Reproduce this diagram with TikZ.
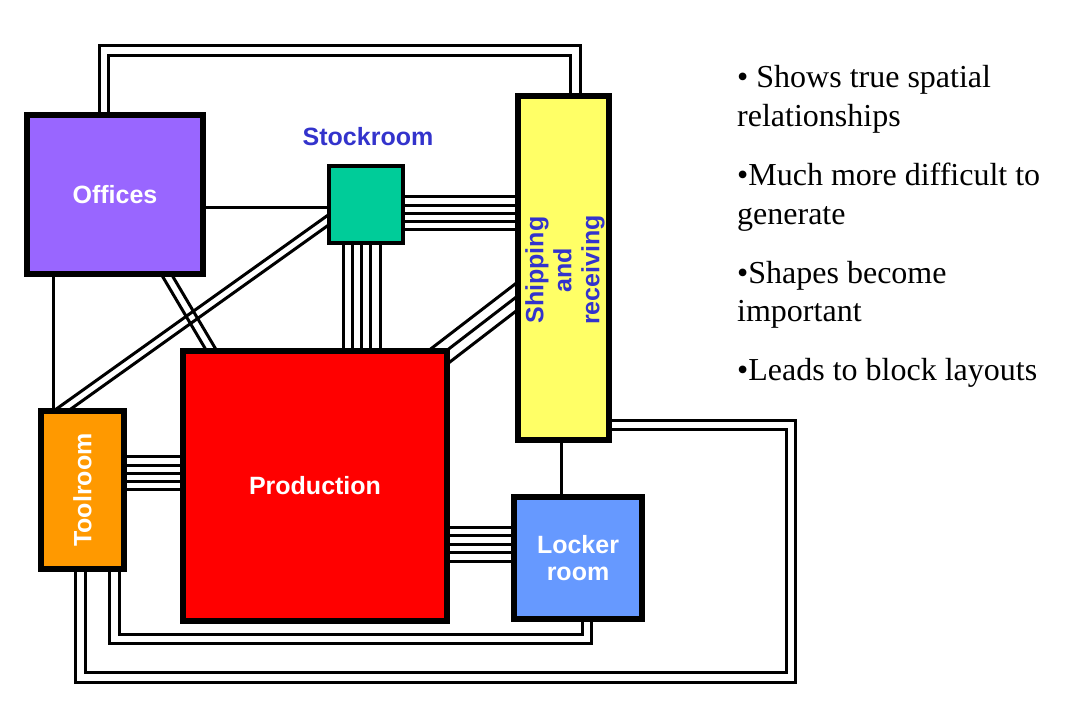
\documentclass[tikz,border=0pt]{standalone}
\usepackage{fontspec}
\setmainfont{Liberation Serif}
\newfontfamily\roomfont{Liberation Sans}
\usetikzlibrary{positioning,calc,backgrounds}
\definecolor{officeviolet}{HTML}{9966FF}
\definecolor{stockgreen}{HTML}{00CC99}
\definecolor{shipyellow}{HTML}{FFFF66}
\definecolor{toolorange}{HTML}{FF9900}
\definecolor{lockerblue}{HTML}{6699FF}
\definecolor{labelblue}{HTML}{3333CC}

\begin{document}
\begin{tikzpicture}[x=1pt,y=-1pt,
    room/.style={draw,line width=6pt,inner sep=0pt,text=white,align=center,
      font=\roomfont\bfseries\fontsize{25}{27}\selectfont},
    roomlabel/.style={inner sep=0pt,align=center,font=\roomfont\bfseries\fontsize{25}{28}\selectfont},
    lineone/.style={line width=3pt,shorten <=-3pt,shorten >=-3pt},
    linetwo/.style={line width=3pt,double=white,double distance=6.7pt},
    point/.style={anchor=base west,inner sep=0pt,align=left,font=\fontsize{32}{39}\selectfont}]
                \useasboundingbox (0,0) rectangle (1085,714);
                % rooms
                \node[room,fill=officeviolet,minimum width=176pt,minimum height=159pt] (offices) at (115,194.5) {Offices};
                \node[room,line width=4pt,fill=stockgreen,minimum width=74pt,minimum height=77pt] (stock) at (366,204.5) {};
                \node[roomlabel,text=labelblue] (stocklabel) at (368,137) {Stockroom};
                \node[room,fill=shipyellow,minimum width=91pt,minimum height=344pt] (ship) at (563.5,268) {};
                \node[roomlabel,text=labelblue,rotate=90] (shiplabel) at (565,270) {Shipping\\and\\receiving};
                \node[room,fill=red,minimum width=264pt,minimum height=270pt] (prod) at (315,486) {Production};
                \node[room,fill=toolorange,minimum width=83pt,minimum height=158pt] (tool) at (82.5,490) {};
                \node[roomlabel,text=white,rotate=90] (toollabel) at (tool) {Toolroom};
                \node[room,fill=lockerblue,minimum width=128pt,minimum height=122pt] (locker) at (578,558) {Locker\\room};
                % notes (base is the last line)
                \node[point] (pointone) at (737,127) {• Shows true spatial\\relationships};
                \node[point] (pointtwo) at (737,225) {•Much more difficult to\\generate};
                \node[point] (pointthree) at (737,322) {•Shapes become\\important};
                \node[point] (pointfour) at (737,380) {•Leads to block layouts};
                % links, under the rooms
                \begin{scope}[on background layer]
                \fill[white] (0,0) rectangle (1085,714);
                \coordinate (offfoot) at ([xshift=53pt]offices.south);
                \coordinate (prodhead) at ([xshift=-105pt]prod.north);
                \coordinate (stockside) at ([yshift=-16.5pt]stock.west);
                \coordinate (toolhead) at ([xshift=-17.5pt]tool.north);
                \coordinate (shipside) at ([yshift=-30pt]ship.west);
                \coordinate (farcorner) at (791,677.5);
                \draw[linetwo] ([xshift=-11pt]offices.north) -- ++(0,-61.5) -| ([xshift=12pt]ship.north);
                \draw[lineone] ([yshift=-13.5pt]offices.east) -- ++(121,0);
                \draw[lineone] ([xshift=-62pt]offices.south) -- ++(0,131);
                \foreach \s in {-4.4,4.4}
                    \draw[lineone,shorten <=-16pt,shorten >=-16pt] ($(offfoot)!\s pt!90:(prodhead)$) -- ($(prodhead)!\s pt!-90:(offfoot)$);
                \foreach \s in {-4.2,4.2}
                    \draw[lineone,shorten <=-16pt,shorten >=-16pt] ($(stockside)!\s pt!90:(toolhead)$) -- ($(toolhead)!\s pt!-90:(stockside)$);
                \foreach \s in {-11,0,11}
                    \draw[lineone,shorten <=-16pt,shorten >=-16pt] ($(prod.north east)!\s pt!90:(shipside)$) -- ($(shipside)!\s pt!-90:(prod.north east)$);
                \foreach \d in {-25.5,-17.2,-8.9,-0.6,7.7}
                    \draw[lineone] ([yshift=\d pt]stock.east) -- ++(110,0);
                \foreach \d in {-22.8,-13.6,-4.4,4.8,14}
                    \draw[lineone] ([xshift=\d pt]stock.south) -- ++(0,103);
                \foreach \d in {33.3,25,16.7,8.4,0.1}
                    \draw[lineone] ([yshift=\d pt]tool.east) -- ++(53,0);
                \foreach \d in {-75,-66.5,-58,-49.5,-41}
                    \draw[lineone] ([yshift=\d pt]prod.east) -- ++(61,0);
                \draw[lineone] ([xshift=-2.5pt]ship.south) -- ++(0,51);
                \draw[linetwo] ([yshift=-157pt]ship.east) -| (farcorner) -| ([xshift=-2pt]tool.south);
                \draw[linetwo] ([xshift=9pt]locker.south) -- ++(0,17) -| ([xshift=32pt]tool.south);
                \end{scope}
            \end{tikzpicture}
\end{document}
